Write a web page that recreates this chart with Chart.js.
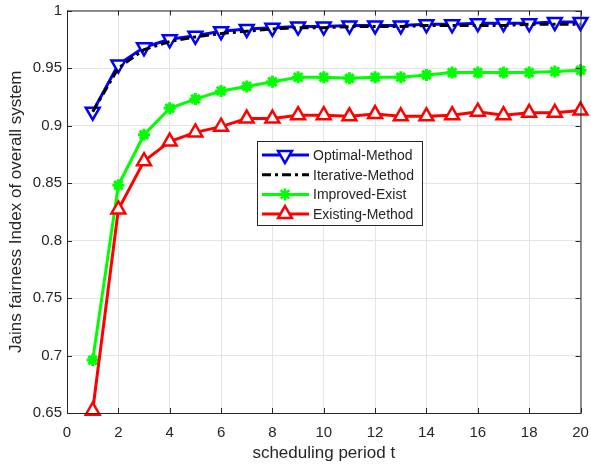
<!DOCTYPE html>
<html>
<head>
<meta charset="utf-8">
<script src="https://cdn.jsdelivr.net/npm/chart.js@4"></script>
<style>
  html, body { margin: 0; padding: 0; background: #fff; }
  #wrap { width: 591px; height: 468px; }
</style>
</head>
<body>
<div id="wrap"><canvas id="fairnessChart" width="591" height="468"></canvas></div>
<script>
// Scheduling periods and series values
const periods = [1, 2, 3, 4, 5, 6, 7, 8, 9, 10, 11, 12, 13, 14, 15, 16, 17, 18, 19, 20];
const optimalMethod = [0.912, 0.953, 0.968, 0.975, 0.978, 0.982, 0.984, 0.985, 0.986, 0.986,
                       0.987, 0.987, 0.987, 0.988, 0.988, 0.989, 0.989, 0.989, 0.990, 0.990];
const iterativeMethod = [0.912, 0.950, 0.966, 0.973, 0.977, 0.980, 0.982, 0.984, 0.985, 0.985,
                         0.986, 0.986, 0.986, 0.987, 0.987, 0.987, 0.987, 0.988, 0.988, 0.988];
const improvedExist = [0.696, 0.848, 0.892, 0.915, 0.923, 0.930, 0.934, 0.938, 0.942, 0.942,
                       0.941, 0.942, 0.942, 0.944, 0.946, 0.946, 0.946, 0.946, 0.947, 0.948];
const existingMethod = [0.652, 0.827, 0.869, 0.886, 0.894, 0.899, 0.906, 0.906, 0.909, 0.909,
                        0.908, 0.910, 0.908, 0.908, 0.909, 0.912, 0.909, 0.911, 0.911, 0.913];
const xTicks = [0, 2, 4, 6, 8, 10, 12, 14, 16, 18, 20];
const yTicks = [0.65, 0.7, 0.75, 0.8, 0.85, 0.9, 0.95, 1];

const axisColor = '#262626';
const gridColor = '#e5e5e5';
const fontFamily = '"Liberation Sans", Arial, sans-serif';

const toPoints = (vals) => vals.map((v, i) => ({ x: periods[i], y: v }));

// Draws one legend marker by hand
const drawMarker = (ctx, style, x, y, r, color, rot) => {
    ctx.save();
    ctx.strokeStyle = color;
    ctx.lineWidth = 2.5;
    ctx.translate(x, y);
    ctx.rotate((rot || 0) * Math.PI / 180);
    ctx.beginPath();
    if (style === 'triangle') {
        const w = r * Math.sqrt(3) / 2;
        ctx.moveTo(0, -r);
        ctx.lineTo(w, r / 2);
        ctx.lineTo(-w, r / 2);
        ctx.closePath();
        ctx.fillStyle = '#fff';
        ctx.fill();
    } else if (style === 'star') {
        for (let k = 0; k < 4; k++) {
            const a = k * Math.PI / 4;
            ctx.moveTo(Math.cos(a) * r, Math.sin(a) * r);
            ctx.lineTo(-Math.cos(a) * r, -Math.sin(a) * r);
        }
    }
    ctx.stroke();
    ctx.restore();
};

// Box, inward ticks and in-plot legend like a MATLAB figure
const matlabFrame = {
    id: 'matlabFrame',
    afterDraw: (chart) => {
        const { ctx, chartArea: a, scales } = chart;
        ctx.save();
        ctx.strokeStyle = axisColor;
        ctx.lineWidth = 1;
        ctx.strokeRect(a.left + 0.5, a.top + 0.5, a.right - a.left, a.bottom - a.top);
        const tl = 5;
        ctx.beginPath();
        xTicks.forEach(t => {
            const px = Math.round(scales.x.getPixelForValue(t)) + 0.5;
            ctx.moveTo(px, a.bottom); ctx.lineTo(px, a.bottom - tl);
            ctx.moveTo(px, a.top); ctx.lineTo(px, a.top + tl);
        });
        yTicks.forEach(t => {
            const py = Math.round(scales.y.getPixelForValue(t)) + 0.5;
            ctx.moveTo(a.left, py); ctx.lineTo(a.left + tl, py);
            ctx.moveTo(a.right, py); ctx.lineTo(a.right - tl, py);
        });
        ctx.stroke();

        // legend
        const lx = 257, ly = 141, lw = 165, lh = 84;
        ctx.fillStyle = '#fff';
        ctx.fillRect(lx, ly, lw, lh);
        ctx.strokeStyle = axisColor;
        ctx.strokeRect(lx + 0.5, ly + 0.5, lw, lh);
        ctx.font = '14px ' + fontFamily;
        ctx.textBaseline = 'middle';
        chart.data.datasets.forEach((ds, i) => {
            const rowY = ly + 14 + i * 19.7;
            ctx.save();
            ctx.strokeStyle = ds.borderColor;
            ctx.lineWidth = ds.borderWidth;
            ctx.setLineDash(ds.borderDash || []);
            ctx.beginPath();
            ctx.moveTo(lx + 5, rowY);
            ctx.lineTo(lx + 52, rowY);
            ctx.stroke();
            ctx.restore();
            if (ds.pointRadius > 0) {
                drawMarker(ctx, ds.pointStyle, lx + 28, rowY, ds.pointRadius, ds.borderColor, ds.pointRotation);
            }
            ctx.fillStyle = axisColor;
            ctx.fillText(ds.label, lx + 56, rowY + 1);
        });
        ctx.restore();
    }
};

const ctx = document.getElementById('fairnessChart');
new Chart(ctx, {
    type: 'line',
    data: {
        datasets: [
            {
                label: 'Optimal-Method',
                data: toPoints(optimalMethod),
                borderColor: '#0000ff',
                backgroundColor: '#ffffff',
                borderWidth: 3,
                pointStyle: 'triangle',
                pointRotation: 180,
                pointRadius: 8,
                pointBorderWidth: 2.5,
                order: 4
            },
            {
                label: 'Iterative-Method',
                data: toPoints(iterativeMethod),
                borderColor: '#000000',
                backgroundColor: '#000000',
                borderWidth: 3,
                borderDash: [9, 4, 3, 4],
                pointRadius: 0,
                order: 3
            },
            {
                label: 'Improved-Exist',
                data: toPoints(improvedExist),
                borderColor: '#00ff00',
                backgroundColor: '#00ff00',
                borderWidth: 3,
                pointStyle: 'star',
                pointRadius: 6,
                pointBorderWidth: 3,
                order: 2
            },
            {
                label: 'Existing-Method',
                data: toPoints(existingMethod),
                borderColor: '#ff0000',
                backgroundColor: '#ffffff',
                borderWidth: 3,
                pointStyle: 'triangle',
                pointRadius: 8,
                pointBorderWidth: 2.5,
                order: 1
            }
        ]
    },
    options: {
        responsive: false,
        animation: false,
        layout: { padding: { top: 5, right: 8, left: 0, bottom: 0 } },
        elements: { line: { tension: 0 } },
        datasets: { line: { clip: 12 } },
        plugins: {
            legend: { display: false },
            tooltip: { enabled: false }
        },
        scales: {
            x: {
                type: 'linear',
                min: 0,
                max: 20,
                afterFit: (s) => { s.height = 55; s.paddingLeft = 0; s.paddingRight = 0; },
                afterBuildTicks: (s) => { s.ticks = xTicks.map(v => ({ value: v })); },
                grid: { color: gridColor, drawTicks: false },
                border: { display: false },
                ticks: { color: axisColor, padding: 11, font: { family: fontFamily, size: 15 }, maxRotation: 0 },
                title: {
                    display: true,
                    text: 'scheduling period t',
                    color: axisColor,
                    font: { family: fontFamily, size: 17 },
                    padding: { top: 2 }
                }
            },
            y: {
                type: 'linear',
                min: 0.65,
                max: 1,
                afterFit: (s) => { s.width = 67; s.paddingTop = 0; s.paddingBottom = 0; },
                afterBuildTicks: (s) => { s.ticks = yTicks.map(v => ({ value: v })); },
                grid: { color: gridColor, drawTicks: false },
                border: { display: false },
                ticks: {
                    color: axisColor,
                    padding: 5,
                    font: { family: fontFamily, size: 15 },
                    callback: (v) => String(Number(v.toFixed(2)))
                },
                title: {
                    display: true,
                    text: 'Jains fairness Index of overall system',
                    color: axisColor,
                    font: { family: fontFamily, size: 17 },
                    padding: { top: 6, bottom: 0 }
                }
            }
        }
    },
    plugins: [matlabFrame]
});
</script>
</body>
</html>
